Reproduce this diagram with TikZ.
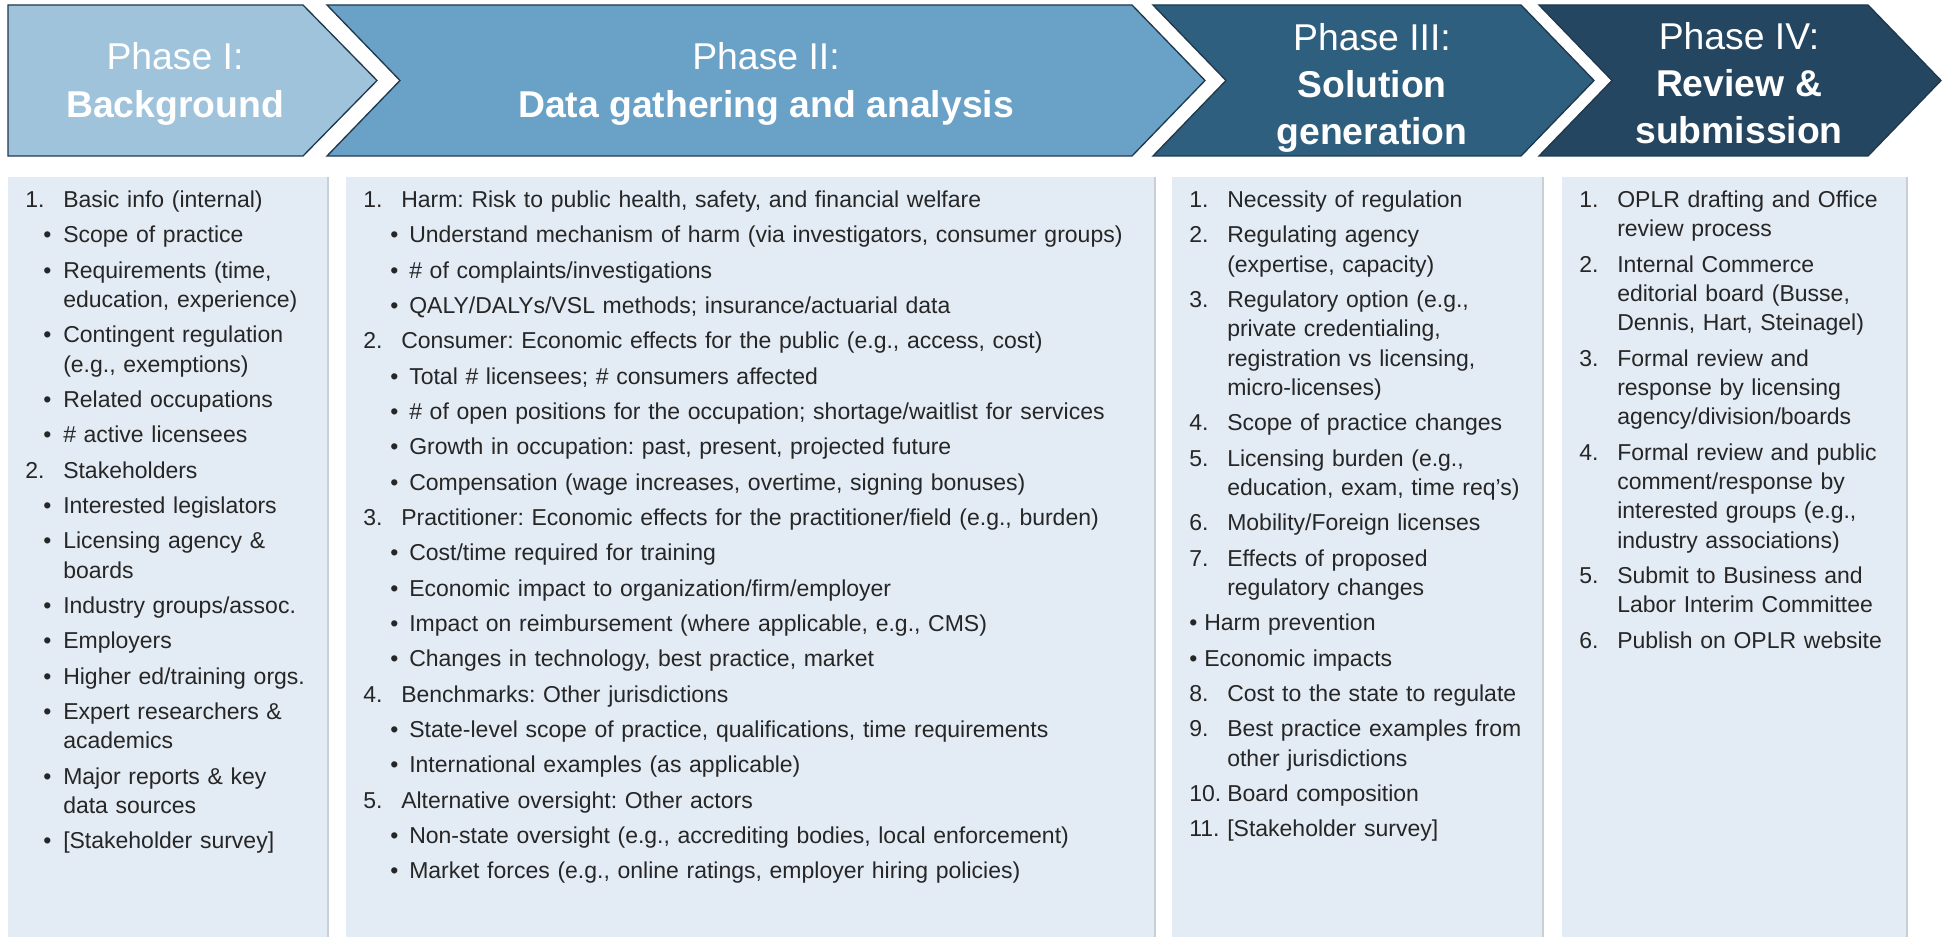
\documentclass[tikz,border=0pt]{standalone}
\usepackage{fontspec}
\setmainfont{Liberation Sans}
\usetikzlibrary{positioning}

\definecolor{phaseone}{RGB}{160,195,220}
\definecolor{phasetwo}{RGB}{106,161,199}
\definecolor{phasethree}{RGB}{47,95,127}
\definecolor{phasefour}{RGB}{36,70,96}
\definecolor{chevedge}{RGB}{31,56,77}
\definecolor{boxfill}{RGB}{227,235,244}
\definecolor{boxshade}{RGB}{200,207,214}
\definecolor{bodytext}{RGB}{38,38,38}

\newlength{\bulpos}
\newlength{\bultxt}
\newcommand{\numitem}[2]{\par\noindent\hangindent=28.5pt\hangafter=1\makebox[28.5pt][l]{#1}#2}
\newcommand{\bulitem}[1]{\par\noindent\hangindent=\bultxt\hangafter=1\hspace*{\bulpos}\makebox[\dimexpr\bultxt-\bulpos\relax][l]{\textbullet}#1}
\newcommand{\bodyfont}{\fontsize{17.25pt}{22pt}\selectfont\frenchspacing}

\begin{document}
\begin{tikzpicture}[x=0.75pt,y=-0.75pt,
    chevron/.style={draw=chevedge, line width=1pt, line join=miter},
    phasetitle/.style={text=white, align=center, inner sep=0pt},
    listbox/.style={fill=boxfill, draw=none},
    listtext/.style={anchor=north west, inner sep=0pt, text=bodytext, font=\bodyfont, align=left}]
      \useasboundingbox (0,0) rectangle (1944,937);
      \fill[white] (0,0) rectangle (1944,937);
      % arrows
      \draw[chevron, fill=phaseone] (8,5) -- (303,5) -- (377,80.5) -- (303,156) -- (8,156) -- cycle;
      \draw[chevron, fill=phasetwo] (327,5) -- (1132,5) -- (1205,80.5) -- (1132,156) -- (327,156) -- (400,80.5) -- cycle;
      \draw[chevron, fill=phasethree] (1153,5) -- (1521,5) -- (1594,80.5) -- (1521,156) -- (1153,156) -- (1226,80.5) -- cycle;
      \draw[chevron, fill=phasefour] (1539,5) -- (1868,5) -- (1941,80.5) -- (1868,156) -- (1539,156) -- (1612,80.5) -- cycle;
      \node[phasetitle, font=\fontsize{28pt}{36pt}\selectfont] at (175,84) (titleone) {Phase I:\\\textbf{Background}};
      \node[phasetitle, font=\fontsize{28pt}{36pt}\selectfont] at (766,84) (titletwo) {Phase II:\\\textbf{Data gathering and analysis}};
      \node[phasetitle, font=\fontsize{28pt}{35pt}\selectfont] at (1372,88) (titlethree) {Phase III:\\\textbf{Solution}\\\textbf{generation}};
      \node[phasetitle, font=\fontsize{28pt}{35pt}\selectfont] at (1739,83) (titlefour) {Phase IV:\\\textbf{Review \&}\\\textbf{submission}};
      % lists
      \fill[listbox] (8,177) rectangle (328,937);
      \fill[listbox] (346,177) rectangle (1155,937);
      \fill[listbox] (1172,177) rectangle (1543,937);
      \fill[listbox] (1562,177) rectangle (1907,937);
      \draw[boxshade, line width=1pt] (328,177) -- (328,937);
      \draw[boxshade, line width=1pt] (1155,177) -- (1155,937);
      \draw[boxshade, line width=1pt] (1543,177) -- (1543,937);
      \draw[boxshade, line width=1pt] (1907,177) -- (1907,937);
      \node[listtext, text width=250pt] at (25,172) (listone) {%
        \setlength{\parskip}{4.5pt}\setlength{\bulpos}{13.5pt}\setlength{\bultxt}{28.5pt}%
        \numitem{1.}{Basic info (internal)}
        \bulitem{Scope of practice}
        \bulitem{Requirements (time,\newline education, experience)}
        \bulitem{Contingent regulation\newline (e.g., exemptions)}
        \bulitem{Related occupations}
        \bulitem{\# active licensees}
        \numitem{2.}{Stakeholders}
        \bulitem{Interested legislators}
        \bulitem{Licensing agency \&\newline boards}
        \bulitem{Industry groups/assoc.}
        \bulitem{Employers}
        \bulitem{Higher ed/training orgs.}
        \bulitem{Expert researchers \&\newline academics}
        \bulitem{Major reports \& key\newline data sources}
        \bulitem{[Stakeholder survey]}};
      \node[listtext, text width=620pt] at (363,172) (listtwo) {%
        \setlength{\parskip}{4.5pt}\setlength{\bulpos}{20.25pt}\setlength{\bultxt}{34.5pt}%
        \numitem{1.}{Harm: Risk to public health, safety, and financial welfare}
        \bulitem{Understand mechanism of harm (via investigators, consumer groups)}
        \bulitem{\# of complaints/investigations}
        \bulitem{QALY/DALYs/VSL methods; insurance/actuarial data}
        \numitem{2.}{Consumer: Economic effects for the public (e.g., access, cost)}
        \bulitem{Total \# licensees; \# consumers affected}
        \bulitem{\# of open positions for the occupation; shortage/waitlist for services}
        \bulitem{Growth in occupation: past, present, projected future}
        \bulitem{Compensation (wage increases, overtime, signing bonuses)}
        \numitem{3.}{Practitioner: Economic effects for the practitioner/field (e.g., burden)}
        \bulitem{Cost/time required for training}
        \bulitem{Economic impact to organization/firm/employer}
        \bulitem{Impact on reimbursement (where applicable, e.g., CMS)}
        \bulitem{Changes in technology, best practice, market}
        \numitem{4.}{Benchmarks: Other jurisdictions}
        \bulitem{State-level scope of practice, qualifications, time requirements}
        \bulitem{International examples (as applicable)}
        \numitem{5.}{Alternative oversight: Other actors}
        \bulitem{Non-state oversight (e.g., accrediting bodies, local enforcement)}
        \bulitem{Market forces (e.g., online ratings, employer hiring policies)}};
      \node[listtext, text width=290pt] at (1189,172) (listthree) {%
        \setlength{\parskip}{4.5pt}\setlength{\bulpos}{0pt}\setlength{\bultxt}{11.25pt}%
        \numitem{1.}{Necessity of regulation}
        \numitem{2.}{Regulating agency\newline (expertise, capacity)}
        \numitem{3.}{Regulatory option (e.g.,\newline private credentialing,\newline registration vs licensing,\newline micro-licenses)}
        \numitem{4.}{Scope of practice changes}
        \numitem{5.}{Licensing burden (e.g.,\newline education, exam, time req’s)}
        \numitem{6.}{Mobility/Foreign licenses}
        \numitem{7.}{Effects of proposed\newline regulatory changes}
        \bulitem{Harm prevention}
        \bulitem{Economic impacts}
        \numitem{8.}{Cost to the state to regulate}
        \numitem{9.}{Best practice examples from\newline other jurisdictions}
        \numitem{10.}{Board composition}
        \numitem{11.}{[Stakeholder survey]}};
      \node[listtext, text width=280pt] at (1579,172) (listfour) {%
        \setlength{\parskip}{4.5pt}%
        \numitem{1.}{OPLR drafting and Office\newline review process}
        \numitem{2.}{Internal Commerce\newline editorial board (Busse,\newline Dennis, Hart, Steinagel)}
        \numitem{3.}{Formal review and\newline response by licensing\newline agency/division/boards}
        \numitem{4.}{Formal review and public\newline comment/response by\newline interested groups (e.g.,\newline industry associations)}
        \numitem{5.}{Submit to Business and\newline Labor Interim Committee}
        \numitem{6.}{Publish on OPLR website}};
\end{tikzpicture}
\end{document}
